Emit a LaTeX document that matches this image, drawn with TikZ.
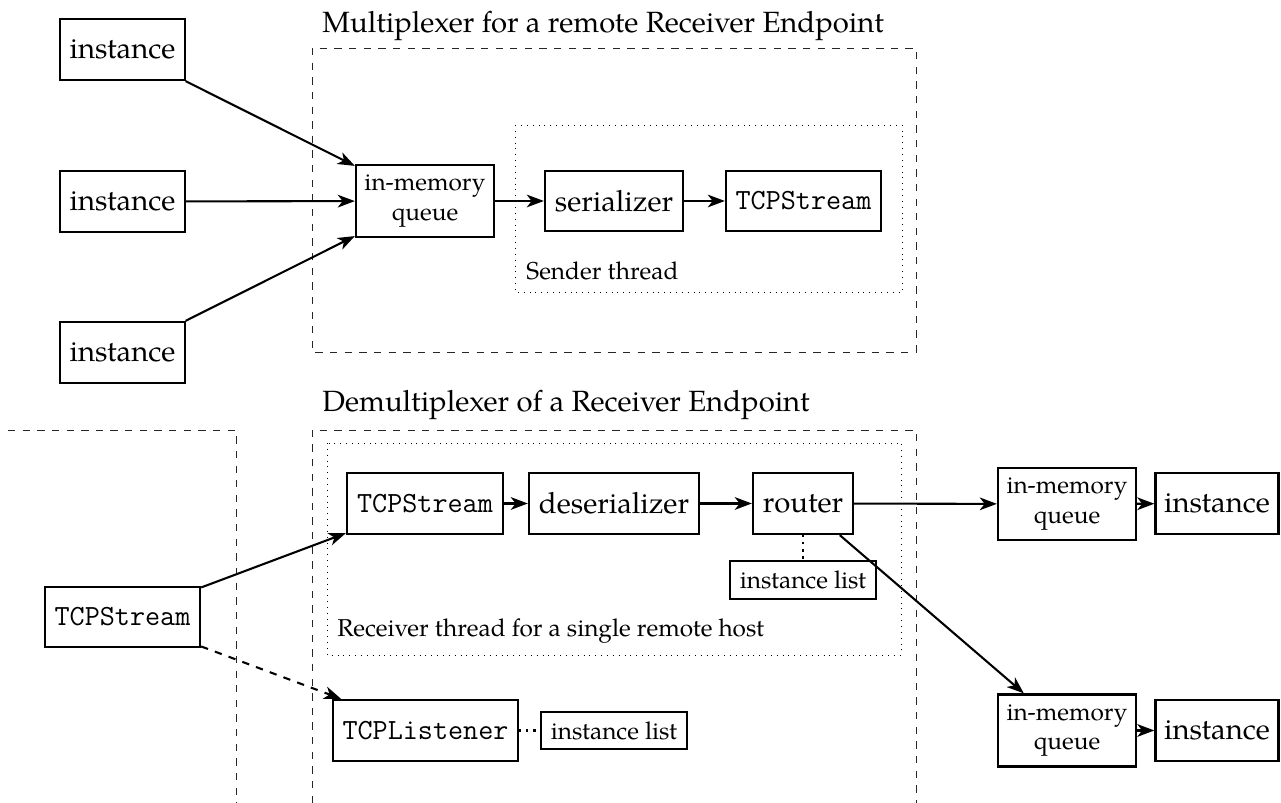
\documentclass[tikz,border=0pt]{standalone}
\usepackage{fontspec}
\setmainfont{TeX Gyre Pagella}
\usetikzlibrary{arrows.meta}

\begin{document}
\begin{tikzpicture}[
  x=0.4098pt, y=-0.4098pt,
  box/.style={draw, line width=0.95pt, inner sep=0pt, align=center, font=\large},
  small/.style={font=\normalsize},
  flow/.style={line width=0.85pt, -{Stealth[length=7pt, width=5.2pt, inset=2pt]}},
  frame/.style={line width=0.4pt, black!85, dash pattern=on 3pt off 3pt},
  thread/.style={line width=0.4pt, dotted},
  link/.style={line width=0.9pt, dotted},
  title/.style={font=\large, anchor=base west, inner sep=0pt},
  caption/.style={font=\normalsize, anchor=base west, inner sep=0pt}
]
\def\u{0.4098pt}
\useasboundingbox (0,0) rectangle (1281,803);

% ---------- sender side ----------
\node[title] (muxtitle) at (322,33) {Multiplexer for a remote Receiver Endpoint};
\draw[frame] (312,48) rectangle (916,352);
\draw[thread] (515,125) rectangle (902,292);
\node[caption] (sendlbl) at (526,280) {Sender thread};

\node[box, minimum width=125*\u, minimum height=61*\u] (ia) at (122.5,49.5) {instance};
\node[box, minimum width=125*\u, minimum height=61*\u] (ib) at (122.5,201.5) {instance};
\node[box, minimum width=125*\u, minimum height=61*\u] (ic) at (122.5,352.5) {instance};

\node[box, small, minimum width=138*\u, minimum height=72*\u] (q1) at (425,201) {in-memory\\queue};
\node[box, minimum width=138*\u, minimum height=60*\u] (ser) at (614,201) {serializer};
\node[box, font=\large\ttfamily, minimum width=155*\u, minimum height=60*\u] (ts1) at (803.5,201) {TCPStream};

\draw[flow] (ia) -- (q1);
\draw[flow] (ib) -- (q1);
\draw[flow] (ic) -- (q1);
\draw[flow] (q1) -- (ser);
\draw[flow] (ser) -- (ts1);

% ---------- receiver side ----------
\node[title] (demuxtitle) at (322,412) {Demultiplexer of a Receiver Endpoint};
\draw[frame] (8,430) -- (236,430) -- (236,803);
\draw[frame] (312,803) -- (312,430) -- (916,430) -- (916,803);
\draw[thread] (327,443) rectangle (901,655);
\node[caption] (recvlbl) at (337,637) {Receiver thread for a single remote host};

\node[box, font=\large\ttfamily, minimum width=155*\u, minimum height=60*\u] (ts0) at (122.5,617) {TCPStream};
\node[box, font=\large\ttfamily, minimum width=156*\u, minimum height=61*\u] (ts2) at (425,503.5) {TCPStream};
\node[box, minimum width=170*\u, minimum height=61*\u] (des) at (614,503.5) {deserializer};
\node[box, minimum width=100*\u, minimum height=61*\u] (rt) at (803,503.5) {router};
\node[box, small, minimum width=146*\u, minimum height=38*\u] (il1) at (803,580) {instance list};

\node[box, small, minimum width=138*\u, minimum height=72*\u] (q2) at (1067,504) {in-memory\\queue};
\node[box, minimum width=123*\u, minimum height=61*\u] (id) at (1217,503.5) {instance};
\node[box, small, minimum width=138*\u, minimum height=72*\u] (q3) at (1067,730.5) {in-memory\\queue};
\node[box, minimum width=123*\u, minimum height=61*\u] (ie) at (1217,730.5) {instance};

\node[box, font=\large\ttfamily, minimum width=185*\u, minimum height=61*\u] (tl) at (425.5,730.5) {TCPListener};
\node[box, small, minimum width=146*\u, minimum height=37*\u] (il2) at (614,730.5) {instance list};

\draw[flow] (ts0) -- (ts2);
\draw[flow, dashed] (ts0) -- (tl);
\draw[flow] (ts2) -- (des);
\draw[flow] (des) -- (rt);
\draw[flow] (rt) -- (q2);
\draw[flow] (q2) -- (id);
\draw[flow] (rt) -- (q3);
\draw[flow] (q3) -- (ie);
\draw[link] (rt) -- (il1);
\draw[link] (tl) -- (il2);
\end{tikzpicture}
\end{document}
